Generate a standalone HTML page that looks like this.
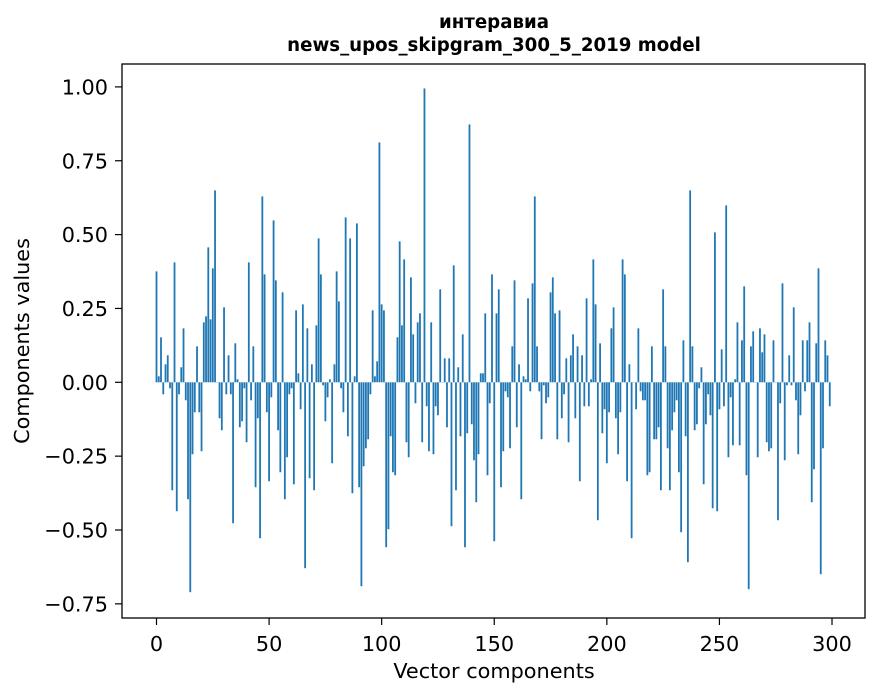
<!DOCTYPE html>
<html><head><meta charset="utf-8"><style>
body{margin:0;background:#fff;}
svg{display:block;font-family:"DejaVu Sans","Liberation Sans",sans-serif;}
</style></head><body>
<svg id="chart" width="880" height="696" xmlns="http://www.w3.org/2000/svg">
<rect x="0" y="0" width="880" height="696" fill="#fff"/>
<text x="494" y="28" text-anchor="middle" font-size="18.2" font-weight="bold">интеравиа</text>
<text x="494" y="51" text-anchor="middle" font-size="18.2" font-weight="bold">news_upos_skipgram_300_5_2019 model</text>
<g id="bars"></g>
<g id="axes"></g>
<text x="494" y="678" text-anchor="middle" font-size="20.8">Vector components</text>
<text transform="translate(29,341) rotate(-90)" text-anchor="middle" font-size="20.8">Components values</text>
</svg>
<script>
const components = Array.from({length:300},(_,i)=>i);
const values = [
0.37,0.02,0.15,-0.04,0.06,0.09,-0.02,-0.36,0.40,-0.43,
-0.04,0.05,0.18,-0.06,-0.39,-0.70,-0.24,-0.10,0.12,-0.10,
-0.23,0.20,0.22,0.45,0.21,0.38,0.64,0.00,-0.12,-0.16,
0.25,-0.04,0.09,-0.04,-0.47,0.13,0.01,-0.15,-0.13,-0.02,
-0.20,0.40,-0.06,0.12,-0.35,-0.12,-0.52,0.62,0.36,-0.10,
-0.33,-0.05,0.54,0.34,-0.16,-0.30,0.30,-0.39,-0.25,-0.04,
-0.02,-0.34,0.24,0.03,-0.09,0.26,-0.62,0.18,-0.32,0.06,
-0.36,0.19,0.48,0.36,-0.01,-0.13,-0.05,0.01,-0.27,0.06,
0.37,0.27,-0.02,-0.10,0.55,-0.18,0.48,-0.37,0.02,0.53,
-0.35,-0.68,-0.28,-0.22,-0.19,-0.04,0.24,0.02,0.07,0.80,
0.26,0.24,-0.55,-0.49,-0.18,-0.30,-0.31,0.15,0.47,0.19,
0.41,-0.20,-0.25,0.35,0.16,-0.07,0.20,0.23,-0.20,0.98,
-0.08,-0.23,0.20,-0.24,-0.08,-0.11,0.31,0.00,0.08,-0.15,
0.08,-0.48,0.39,-0.36,0.05,-0.18,0.16,-0.55,-0.17,0.86,
-0.14,-0.26,-0.40,-0.24,0.03,0.03,0.23,-0.31,-0.07,0.36,
-0.53,0.23,0.31,-0.35,-0.23,-0.03,-0.05,-0.22,0.12,0.34,
-0.15,0.06,-0.39,0.02,0.01,0.28,-0.03,0.33,0.62,0.12,
-0.03,-0.19,-0.01,-0.07,-0.05,0.30,0.35,0.23,-0.19,0.24,
-0.12,-0.04,0.08,-0.20,0.09,0.16,-0.12,0.12,-0.33,0.09,
-0.08,0.28,-0.08,0.01,0.41,0.26,-0.46,0.13,-0.17,-0.09,
-0.27,-0.10,0.18,0.25,-0.12,-0.24,-0.10,0.41,0.36,-0.33,
0.06,-0.52,0.00,-0.09,0.18,-0.03,-0.06,-0.06,-0.31,-0.30,
0.12,-0.19,-0.19,-0.15,-0.36,0.31,0.12,-0.22,-0.36,-0.16,
-0.10,-0.06,-0.30,-0.50,0.14,-0.18,-0.60,0.64,0.12,-0.16,
-0.14,-0.02,0.05,-0.34,-0.14,-0.04,-0.11,-0.42,0.50,-0.43,
-0.09,0.11,-0.08,0.59,-0.25,-0.05,-0.21,0.01,0.20,-0.21,
0.14,0.32,-0.31,-0.69,0.12,0.17,0.00,-0.25,0.18,0.10,
0.16,-0.20,-0.23,-0.22,0.14,0.00,-0.46,-0.07,0.33,-0.26,
-0.01,0.09,-0.01,0.25,-0.06,-0.24,-0.11,0.14,-0.03,0.14,
0.20,-0.40,-0.29,0.13,0.38,-0.64,-0.22,0.14,0.09,-0.08
];
const yTicks = [-0.75,-0.5,-0.25,0,0.25,0.5,0.75,1.0];
const yTickLabels = ["−0.75","−0.50","−0.25","0.00","0.25","0.50","0.75","1.00"];
const xTicks = [0,50,100,150,200,250,300];
const xTickLabels = ["0","50","100","150","200","250","300"];

const NS="http://www.w3.org/2000/svg";
const L=122,R=865,T=64,B=618;
function xs(v){return 156.5+v*2.2517;}
function ys(v){return 382.3-v*295.4*1.015;}
function ysTick(v){return 382.3-v*295.4;}
const bars=document.getElementById('bars');
values.forEach((v,i)=>{
  const r=document.createElementNS(NS,'rect');
  const y0=ys(0),y1=ys(v);
  r.setAttribute('x',xs(components[i])-0.9);
  r.setAttribute('width',1.8);
  r.setAttribute('y',Math.min(y0,y1));
  r.setAttribute('height',Math.max(Math.abs(y1-y0),0.3));
  r.setAttribute('fill','#1f77b4');
  
  
  bars.appendChild(r);
});
const axes=document.getElementById('axes');
function el(tag,attrs,txt){const e=document.createElementNS(NS,tag);for(const k in attrs)e.setAttribute(k,attrs[k]);if(txt!==undefined)e.textContent=txt;axes.appendChild(e);return e;}
const frame=el('rect',{x:L,y:T,width:R-L,height:B-T,fill:'none',stroke:'#000','stroke-width':1.3});


yTicks.forEach((t,i)=>{
  const y=ysTick(t);
  const tk=el('line',{x1:L-7,x2:L,y1:y,y2:y,stroke:'#000','stroke-width':1.2});
  
  
  const lb=el('text',{x:L-14,y:y+7.5,'text-anchor':'end','font-size':20.8},yTickLabels[i]);
  
  
});
xTicks.forEach((t,i)=>{
  const x=xs(t);
  const tk=el('line',{x1:x,x2:x,y1:B,y2:B+7,stroke:'#000','stroke-width':1.2});
  
  
  const lb=el('text',{x:x,y:B+33,'text-anchor':'middle','font-size':20.8},xTickLabels[i]);
  
  
});
</script>
</body></html>
